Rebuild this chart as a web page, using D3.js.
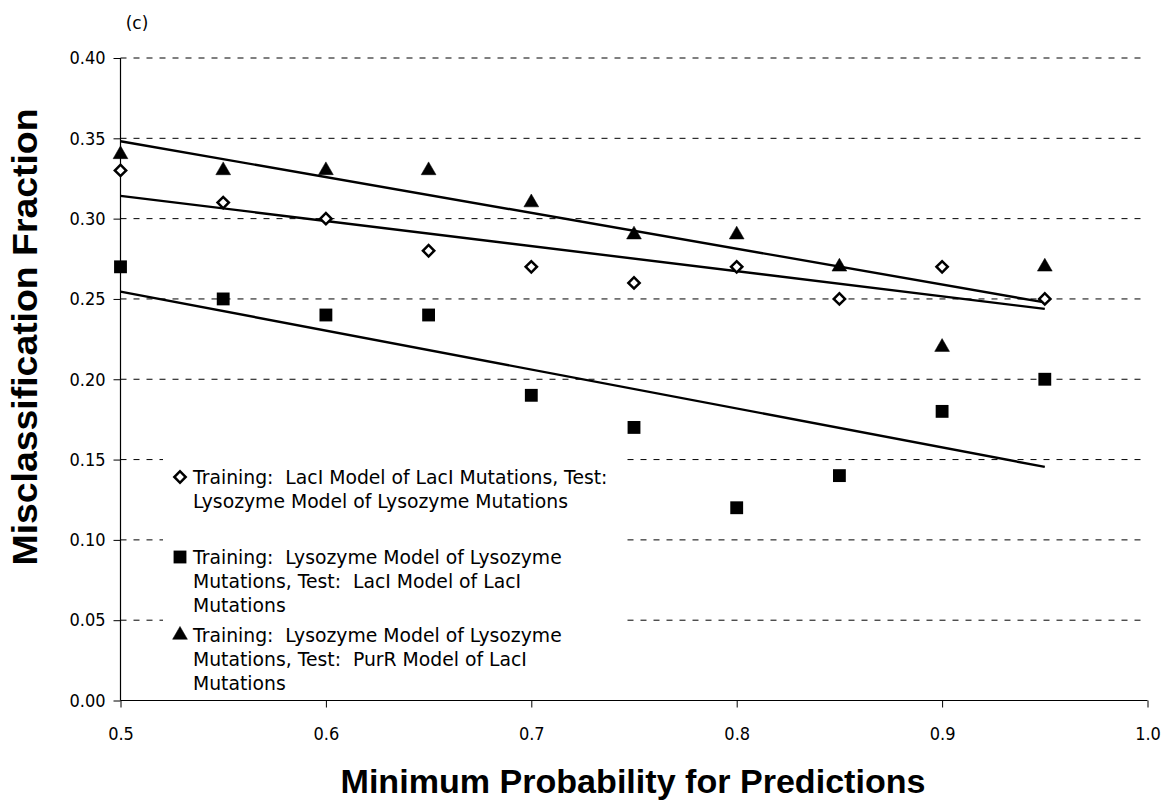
<!DOCTYPE html>
<html><head><meta charset="utf-8">
<script src="https://cdn.jsdelivr.net/npm/d3@7"></script>
<style>body{margin:0;background:#fff}svg{display:block}text{white-space:pre}</style>
</head><body>
<svg id="c" width="1163" height="805"></svg>
<script>
const xValues = [0.5,0.55,0.6,0.65,0.7,0.75,0.8,0.85,0.9,0.95];
const diamondValues = [0.33,0.31,0.30,0.28,0.27,0.26,0.27,0.25,0.27,0.25];
const squareValues = [0.27,0.25,0.24,0.24,0.19,0.17,0.12,0.14,0.18,0.20];
const triangleValues = [0.34,0.33,0.33,0.33,0.31,0.29,0.29,0.27,0.22,0.27];
const xTicks = [0.5,0.6,0.7,0.8,0.9,1.0];
const yTicks = [0,0.05,0.10,0.15,0.20,0.25,0.30,0.35,0.40];
const legendLabels = [
  ["Training:  LacI Model of LacI Mutations, Test:","Lysozyme Model of Lysozyme Mutations"],
  ["Training:  Lysozyme Model of Lysozyme","Mutations, Test:  LacI Model of LacI","Mutations"],
  ["Training:  Lysozyme Model of Lysozyme","Mutations, Test:  PurR Model of LacI","Mutations"]
];

const svg = d3.select("#c");
const x = d3.scaleLinear().domain([0.5,1.0]).range([120.5,1147.5]);
const y = d3.scaleLinear().domain([0,0.40]).range([700.5,58]);
const tickFont = "'DejaVu Sans Condensed', 'DejaVu Sans', sans-serif";
const legFont = "'DejaVu Sans', sans-serif";

// gridlines
svg.append("g").selectAll("line").data(yTicks.filter(d=>d>0)).join("line")
  .attr("x1",x(0.5)).attr("x2",x(1.0)).attr("y1",d=>y(d)).attr("y2",d=>y(d))
  .attr("stroke","#000").attr("stroke-width",1).attr("stroke-dasharray","6,7");

// trend lines (least squares from data)
function fit(vals){
  const mx=d3.mean(xValues), my=d3.mean(vals);
  let sxy=0,sxx=0;
  xValues.forEach((v,i)=>{sxy+=(v-mx)*(vals[i]-my);sxx+=(v-mx)*(v-mx);});
  const b=sxy/sxx, a=my-b*mx;
  return [[xValues[0],a+b*xValues[0]],[xValues[xValues.length-1],a+b*xValues[xValues.length-1]]];
}
const series = [
  {vals:diamondValues, sym:d3.symbolSquare, rot:45, fill:"#fff", size:64, sw:2.5},
  {vals:squareValues, sym:d3.symbolSquare, rot:0, fill:"#000", size:165, sw:0},
  {vals:triangleValues, sym:d3.symbolTriangle, rot:0, fill:"#000", size:95, sw:0.5}
];
const line = d3.line().x(d=>x(d[0])).y(d=>y(d[1]));
series.forEach(s=>{
  svg.append("path").attr("d",line(fit(s.vals))).attr("stroke","#000").attr("stroke-width",2.4).attr("fill","none");
});

// legend background
svg.append("rect").attr("x",163).attr("y",445).attr("width",462).attr("height",254).attr("fill","#fff");

// axes
const yAxis = d3.axisLeft(y).tickValues(yTicks).tickFormat(d3.format(".2f")).tickSize(7).tickPadding(8);
const gy = svg.append("g").attr("transform",`translate(${x(0.5)},0)`).call(yAxis);
const xAxis = d3.axisBottom(x).tickValues(xTicks).tickFormat(d3.format(".1f")).tickSize(7).tickPadding(20);
const gx = svg.append("g").attr("transform",`translate(0,${y(0)})`).call(xAxis);
[gx,gy].forEach(g=>{
  g.attr("font-size",null).attr("font-family",null);
  g.select(".domain").attr("stroke","#000").attr("stroke-width",1.2);
  g.selectAll(".tick line").attr("stroke","#000");
  g.selectAll("text").attr("font-family",tickFont).attr("font-size",18).attr("fill","#000");
});
gy.select(".domain").attr("d",`M0,${y(0.4)}V${y(0)}`);
gx.select(".domain").attr("d",`M${x(0.5)},0H${x(1.0)}`);

// markers
series.forEach(s=>{
  svg.append("g").selectAll("path").data(s.vals).join("path")
    .attr("transform",(d,i)=>`translate(${x(xValues[i])},${y(d)}) rotate(${s.rot})`)
    .attr("d",d3.symbol().type(s.sym).size(s.size)())
    .attr("fill",s.fill).attr("stroke","#000").attr("stroke-width",s.sw);
});

// legend
const legY=[477,557,635];
legendLabels.forEach((lines,k)=>{
  const s=series[k];
  svg.append("path").attr("transform",`translate(180,${legY[k]}) rotate(${s.rot})`)
    .attr("d",d3.symbol().type(s.sym).size(s.size)())
    .attr("fill",s.fill).attr("stroke","#000").attr("stroke-width",s.sw);
  lines.forEach((t,j)=>{
    svg.append("text").attr("x",193).attr("y",legY[k]+j*24).attr("dy","0.36em")
      .attr("font-family",legFont).attr("font-size",18.8).attr("fill","#000").text(t);
  });
});

// titles
svg.append("text").attr("x",137).attr("y",23).attr("dy","0.35em").attr("text-anchor","middle")
  .attr("font-family",legFont).attr("font-size",17).text("(c)");
svg.append("text").attr("transform","translate(37,337) rotate(-90)").attr("text-anchor","middle")
  .attr("font-family","'Liberation Sans', Arial, sans-serif").attr("font-weight","bold").attr("font-size",35)
  .attr("textLength",457).attr("lengthAdjust","spacingAndGlyphs")
  .text("Misclassification Fraction");
svg.append("text").attr("x",633).attr("y",793).attr("text-anchor","middle")
  .attr("font-family","'Liberation Sans', Arial, sans-serif").attr("font-weight","bold").attr("font-size",34)
  .attr("textLength",585).attr("lengthAdjust","spacingAndGlyphs")
  .text("Minimum Probability for Predictions");
</script>
</body></html>
